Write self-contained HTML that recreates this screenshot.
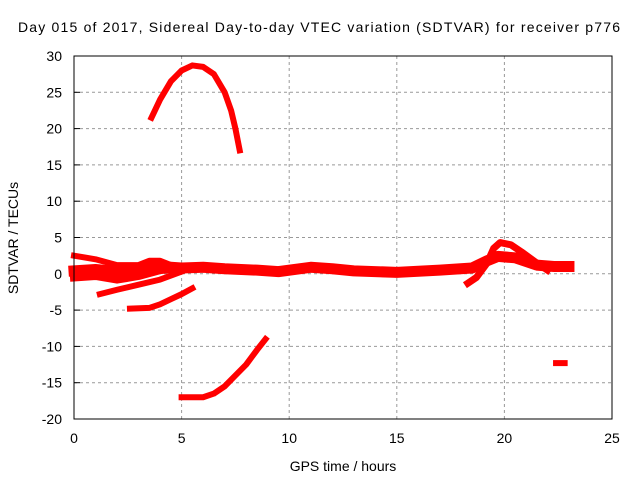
<!DOCTYPE html>
<html><head><meta charset="utf-8"><style>
body{margin:0;background:#fff}
svg text{font-family:"Liberation Sans",sans-serif;font-size:14px;fill:#000}
</style></head><body>
<svg id="chart" width="640" height="480">
<text x="18" y="32" textLength="602" lengthAdjust="spacing">Day 015 of 2017, Sidereal Day-to-day VTEC variation (SDTVAR) for receiver p776</text>
<text x="343" y="471" text-anchor="middle">GPS time / hours</text>
<text transform="translate(18,238) rotate(-90)" text-anchor="middle">SDTVAR / TECUs</text>
<g id="grid"></g><g id="ticks"></g><g id="series"></g>
<rect x="74" y="56" width="538" height="363" fill="none" stroke="#000" stroke-width="1"/>
</svg>
<script>
const xTicks=[0,5,10,15,20,25];
const yTicks=[30,25,20,15,10,5,0,-5,-10,-15,-20];
const arcX=[3.6,4,4.5,5,5.5,6,6.5,7,7.3,7.5,7.7];
const arcY=[21.5,24,26.5,28,28.7,28.5,27.5,25,22.5,20,17];
const lowX=[5,6,6.5,7,7.5,8,8.5,8.9];
const lowY=[-17,-17,-16.5,-15.5,-14,-12.5,-10.5,-9];
const negX=[2.6,3.5,4,4.5,5,5.5];
const negY=[-4.8,-4.7,-4.2,-3.5,-2.8,-2];
const bandX=[0,1,2,3,4,5,6,7,8.5,9.5,11,12,13,15,17,18.5,19.2,19.7,20.5,21.5,22.3,23];
const bandY=[0.4,0.6,0.3,0.6,1,0.8,0.9,0.7,0.5,0.3,0.9,0.7,0.4,0.2,0.5,0.8,1.8,2.4,2.2,1.2,1,1];
const upX=[0,1,2,3,3.5,4,4.5];
const upY=[2.5,2,1.2,1.2,1.8,1.8,1.2];
const midX=[1.2,2,3,4,5];
const midY=[-2.8,-2.2,-1.5,-0.8,0.3];
const lo2X=[0,1,2,3,4,5];
const lo2Y=[-0.5,-0.3,-0.8,-0.3,0.5,0.8];
const bumpX=[18.3,18.7,19.2,19.5,19.8,20.3,20.8,21.5,22];
const bumpY=[-1.3,-0.5,1.5,3.5,4.3,4,3,1.5,0.5];
const dotX=[22.4,22.8];
const dotY=[-12.3,-12.3];
const series=[[arcX,arcY,6],[lowX,lowY,6],[negX,negY,6],[bandX,bandY,11],[upX,upY,6],[midX,midY,6],[lo2X,lo2Y,8],[bumpX,bumpY,7],[dotX,dotY,6]];
const X=v=>74+v*(538/25), Y=v=>419-(v+20)*(363/50);
const NS="http://www.w3.org/2000/svg";
const g=document.getElementById('grid'),t=document.getElementById('ticks'),s=document.getElementById('series');
function mk(tag,a,p){const e=document.createElementNS(NS,tag);for(const k in a)e.setAttribute(k,a[k]);p.appendChild(e);return e;}
xTicks.forEach(v=>{
 if(v>0&&v<25){const l=mk('line',{x1:X(v),x2:X(v),y1:56,y2:419,stroke:'#999','stroke-dasharray':'3,3'},g);
 
 }
 const tx=mk('text',{x:X(v),y:443,'text-anchor':'middle'},t);tx.textContent=v;
 
 
});
yTicks.forEach(v=>{
 if(v>-20&&v<30){const l=mk('line',{x1:74,x2:612,y1:Y(v),y2:Y(v),stroke:'#999','stroke-dasharray':'3,3'},g);
 
 }
 mk('line',{x1:74,x2:80,y1:Y(v),y2:Y(v),stroke:'#000'},t);
 const tx=mk('text',{x:62,y:Y(v)+5,'text-anchor':'end'},t);tx.textContent=v;
 
 
});
series.forEach(([xs,ys,w])=>{
 const pts=xs.map((x,i)=>X(x)+','+Y(ys[i])).join(' ');
 const p=mk('polyline',{points:pts,fill:'none',stroke:'#f00','stroke-width':w,'stroke-linejoin':'round','stroke-linecap':'square'},s);
 
 
});
</script>
</body></html>
